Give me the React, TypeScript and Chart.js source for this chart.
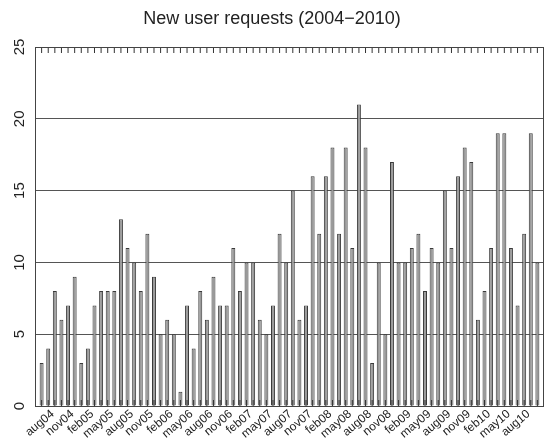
import React, { useEffect, useRef } from 'react';
import { Chart, CategoryScale, registerables } from 'chart.js';

Chart.register(...registerables);

class PaddedCategoryScale extends CategoryScale {
  static id = 'paddedCategory';
  static defaults = CategoryScale.defaults;
  buildTicks() {
    const ticks = super.buildTicks();
    (this as any)._startValue -= 0.5;
    (this as any)._valueRange += 1;
    return ticks;
  }
}
Chart.register(PaddedCategoryScale as any);

const TITLE = 'New user requests (2004\u22122010)';

const months = [
  'aug04', 'sep04', 'oct04', 'nov04', 'dec04',
  'jan05', 'feb05', 'mar05', 'apr05', 'may05', 'jun05', 'jul05', 'aug05', 'sep05', 'oct05', 'nov05', 'dec05',
  'jan06', 'feb06', 'mar06', 'apr06', 'may06', 'jun06', 'jul06', 'aug06', 'sep06', 'oct06', 'nov06', 'dec06',
  'jan07', 'feb07', 'mar07', 'apr07', 'may07', 'jun07', 'jul07', 'aug07', 'sep07', 'oct07', 'nov07', 'dec07',
  'jan08', 'feb08', 'mar08', 'apr08', 'may08', 'jun08', 'jul08', 'aug08', 'sep08', 'oct08', 'nov08', 'dec08',
  'jan09', 'feb09', 'mar09', 'apr09', 'may09', 'jun09', 'jul09', 'aug09', 'sep09', 'oct09', 'nov09', 'dec09',
  'jan10', 'feb10', 'mar10', 'apr10', 'may10', 'jun10', 'jul10', 'aug10', 'sep10', 'oct10', 'nov10',
];

const requests = [
  3, 4, 8, 6, 7, 9, 3, 4, 7, 8, 8, 8, 13,
  11, 10, 8, 12, 9, 5, 6, 5, 1, 7, 4, 8, 6,
  9, 7, 7, 11, 8, 10, 10, 6, 5, 7, 12, 10, 15,
  6, 7, 16, 12, 16, 18, 12, 18, 11, 21, 18, 3, 10,
  5, 17, 10, 10, 11, 12, 8, 11, 10, 15, 11, 16, 18,
  17, 6, 8, 11, 19, 19, 11, 7, 12, 19, 10,
];

const labeledMonths = [
  'aug04', 'nov04', 'feb05', 'may05', 'aug05', 'nov05', 'feb06', 'may06', 'aug06',
  'nov06', 'feb07', 'may07', 'aug07', 'nov07', 'feb08', 'may08', 'aug08', 'nov08',
  'feb09', 'may09', 'aug09', 'nov09', 'feb10', 'may10', 'aug10',
];

const yTicks = [0, 5, 10, 15, 20, 25];

const FONT = "'Liberation Sans', Arial, sans-serif";
const INK = '#222';

const framePlugin = {
  id: 'frame',
  afterDatasetsDraw(chart: any) {
    const { ctx, chartArea, scales } = chart;
    const { left, right, top, bottom } = chartArea;
    const x = scales.x;
    ctx.save();
    ctx.strokeStyle = '#333';
    ctx.lineWidth = 1;
    ctx.beginPath();
    for (let i = 0; i < months.length; i++) {
      const px = x.getPixelForValue(i);
      ctx.moveTo(px, top);
      ctx.lineTo(px, top + 6);
      ctx.moveTo(px, bottom);
      ctx.lineTo(px, bottom - 6);
    }
    ctx.stroke();
    ctx.strokeStyle = '#444';
    ctx.strokeRect(left + 0.5, top + 0.5, right - left - 1, bottom - top);
    ctx.restore();
  },
};

export default function App() {
  const ref = useRef<HTMLCanvasElement | null>(null);

  useEffect(() => {
    if (!ref.current) return;
    const chart = new Chart(ref.current, {
      type: 'bar',
      data: {
        labels: months,
        datasets: [
          {
            data: requests,
            backgroundColor: '#9a9a9a',
            borderColor: '#3a3a3a',
            borderWidth: 1,
            barPercentage: 0.6,
            categoryPercentage: 1,
          },
        ],
      },
      options: {
        responsive: false,
        animation: false,
        layout: { padding: { left: 0, right: 4, top: 0, bottom: 0 } },
        plugins: {
          legend: { display: false },
          tooltip: { enabled: false },
          title: {
            display: true,
            text: TITLE,
            color: INK,
            font: { family: FONT, size: 18, weight: 'normal', lineHeight: 1.2 },
            padding: { top: 8, bottom: 17.4 },
          },
        },
        scales: {
          x: {
            type: 'paddedCategory' as any,
            offset: true,
            grid: { display: false, drawTicks: false },
            border: { display: false },
            ticks: {
              autoSkip: false,
              minRotation: 40,
              maxRotation: 40,
              padding: 1,
              labelOffset: 11,
              color: INK,
              font: { family: FONT, size: 12 },
            },
            afterBuildTicks: (s: any) => {
              s.ticks = s.ticks.filter((t: any) => labeledMonths.includes(months[t.value]));
            },
            afterFit: (s: any) => {
              s.height = 42;
              s.paddingLeft = 0;
              s.paddingRight = 0;
            },
          } as any,
          y: {
            min: 0,
            max: 25,
            afterBuildTicks: (s: any) => {
              s.ticks = yTicks.map((v) => ({ value: v }));
            },
            grid: {
              drawTicks: false,
              lineWidth: 1,
              color: (c: any) =>
                c.tick && (c.tick.value === 0 || c.tick.value === 25) ? 'rgba(0,0,0,0)' : '#555',
            },
            border: { display: false },
            ticks: {
              minRotation: 90,
              maxRotation: 90,
              crossAlign: 'center',
              padding: 7,
              color: INK,
              font: { family: FONT, size: 15 },
            },
            afterFit: (s: any) => {
              s.width = 35;
            },
          } as any,
        },
      },
      plugins: [framePlugin],
    });
    return () => chart.destroy();
  }, []);

  return (
    <div style={{ position: 'absolute', left: 0, top: 0, width: 548, height: 448 }}>
      <canvas ref={ref} width={548} height={448} style={{ display: 'block' }} />
    </div>
  );
}
